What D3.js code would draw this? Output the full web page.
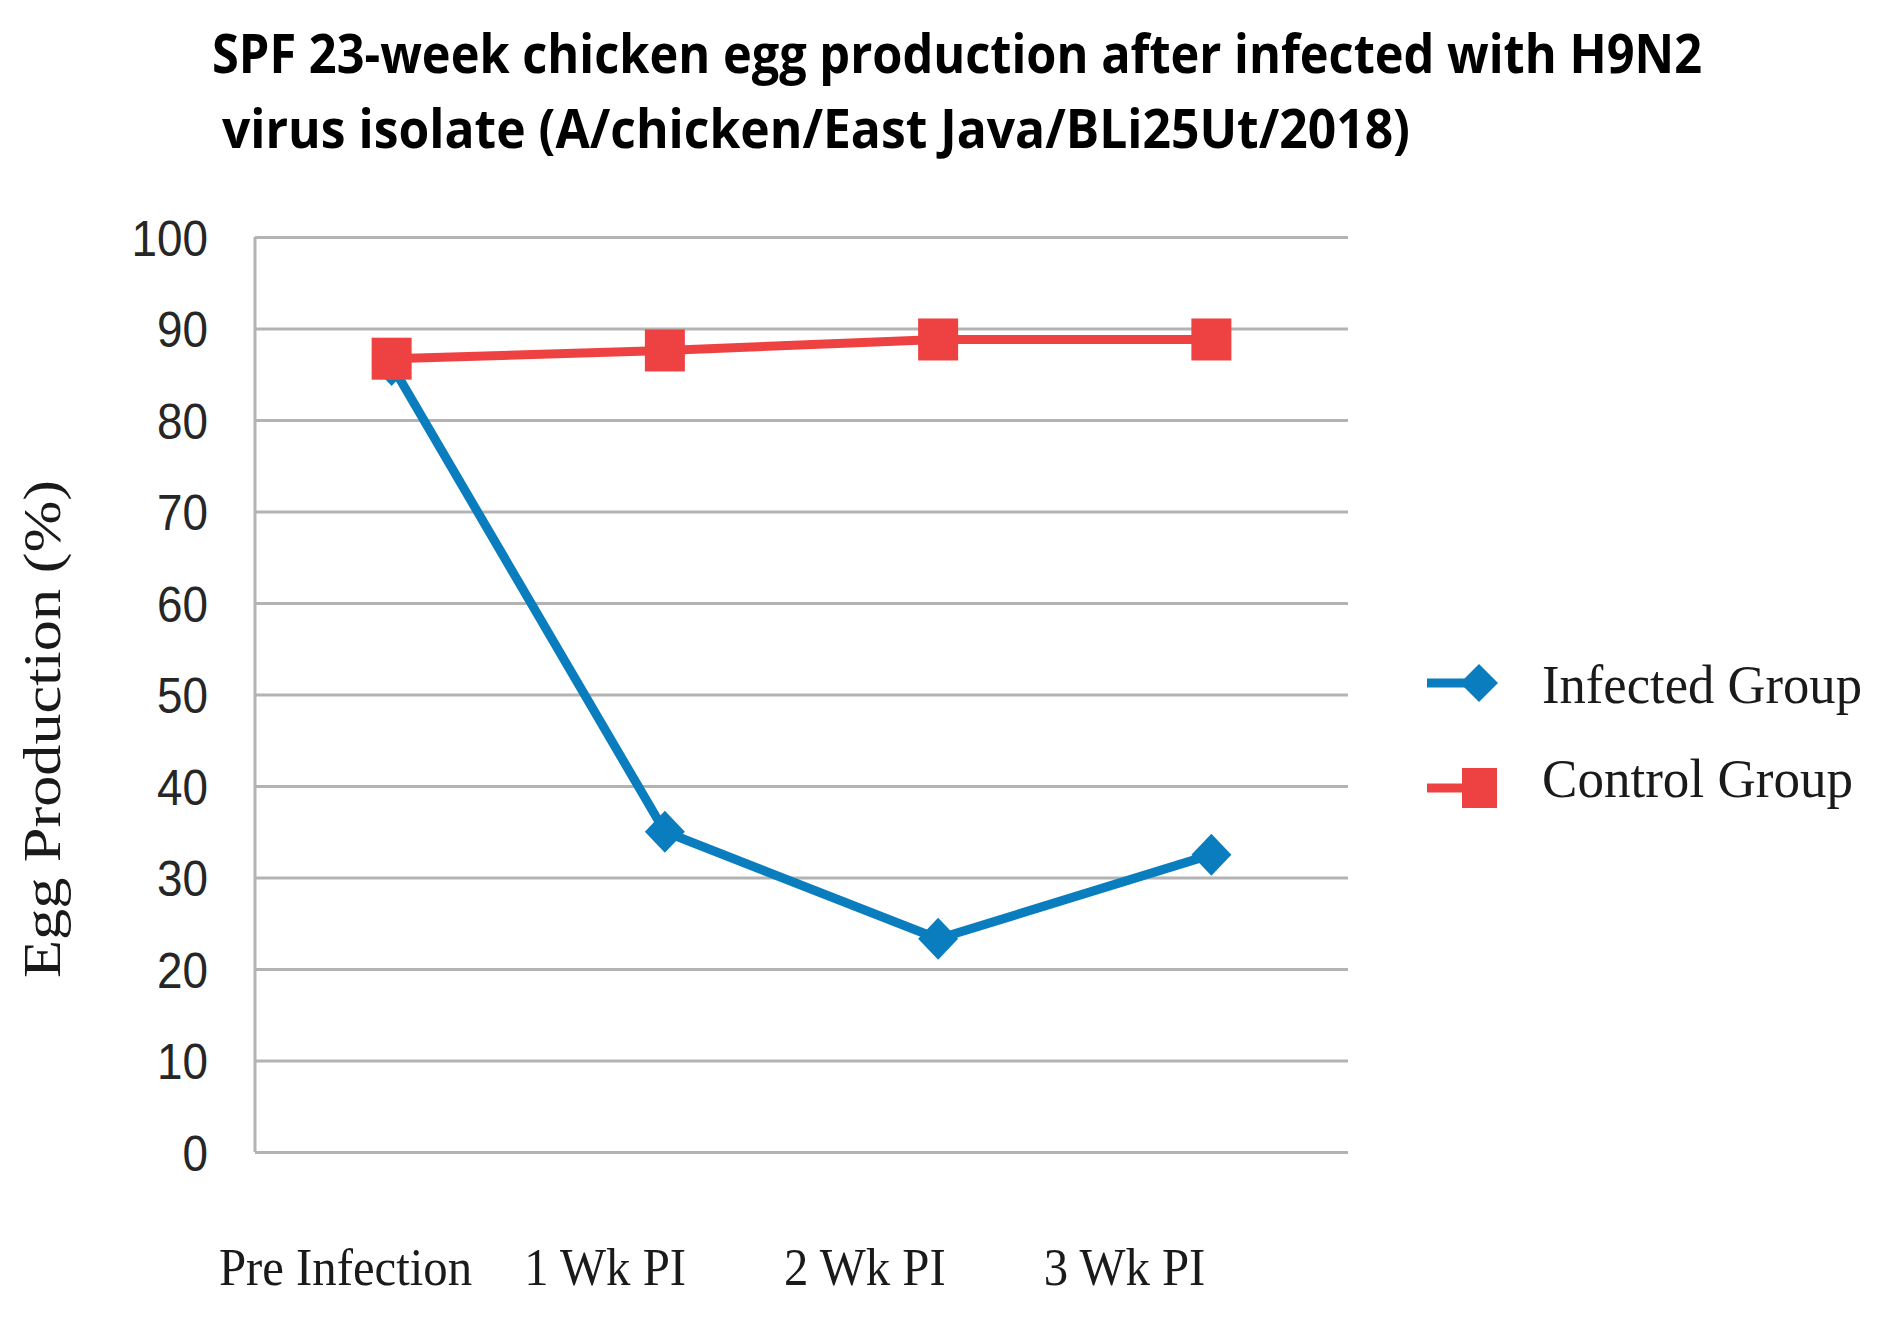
<!DOCTYPE html>
<html>
<head>
<meta charset="utf-8">
<script src="https://cdn.jsdelivr.net/npm/d3@7"></script>
<style>
html, body { margin: 0; padding: 0; background: #ffffff; }
svg { display: block; }
</style>
</head>
<body>
<svg id="chart" width="1887" height="1320"></svg>
<script>
// ---- data ----
const categories = ["Pre Infection", "1 Wk PI", "2 Wk PI", "3 Wk PI"];
const infectedValues = [86, 35, 23.3, 32.5];
const controlValues = [86.7, 87.6, 88.8, 88.8];
const yTicks = [0, 10, 20, 30, 40, 50, 60, 70, 80, 90, 100];
const seriesNames = ["Infected Group", "Control Group"];
const titleLines = [
  "SPF 23-week chicken egg production after infected with H9N2",
  "virus isolate (A/chicken/East Java/BLi25Ut/2018)"
];
const yAxisTitle = "Egg Production (%)";

// ---- layout ----
const W = 1887, H = 1320;
const plot = { left: 255, right: 1348, top: 237, bottom: 1152 };
const blue = "#0a7dbf", red = "#ee4242", grid = "#b3b3b3";
const serif = "'Liberation Serif', 'DejaVu Serif', serif";
const sans = "'Liberation Sans', Arial, sans-serif";

const svg = d3.select("#chart");
svg.append("rect").attr("width", W).attr("height", H).attr("fill", "#fff");

const x = d3.scaleBand().domain(categories).range([plot.left, plot.right]);
const cx = c => x(c) + x.bandwidth() / 2;
const y = d3.scaleLinear().domain([0, 100]).range([plot.bottom, plot.top]);
const xLabel = d3.scalePoint().domain(categories).range([345, 1124]);

// ---- title ----
const tl = svg.append("g").attr("font-family", "'Liberation Sans Narrow', 'Open Sans', sans-serif")
  .attr("font-weight", "bold").attr("font-size", 53).attr("fill", "#000");
tl.append("text").attr("x", 212).attr("y", 73).text(titleLines[0])
  .attr("textLength", 1490).attr("lengthAdjust", "spacingAndGlyphs");
tl.append("text").attr("x", 222).attr("y", 148).text(titleLines[1])
  .attr("textLength", 1188).attr("lengthAdjust", "spacingAndGlyphs");

// ---- gridlines ----
const gridG = svg.append("g").attr("transform", `translate(${plot.left},0)`)
  .call(d3.axisLeft(y).tickValues(yTicks).tickSize(-(plot.right - plot.left)).tickFormat(""));
gridG.select(".domain").remove();
gridG.selectAll(".tick line").attr("stroke", grid).attr("stroke-width", 3);

// left axis line
svg.append("line").attr("x1", plot.left).attr("x2", plot.left)
  .attr("y1", y(100)).attr("y2", y(0)).attr("stroke", grid).attr("stroke-width", 3);

// ---- y tick labels ----
const yAx = svg.append("g").attr("transform", `translate(${plot.left},0)`)
  .call(d3.axisLeft(y).tickValues(yTicks).tickSize(0).tickPadding(47));
yAx.select(".domain").remove();
yAx.selectAll(".tick text")
  .attr("font-family", sans).attr("font-size", 50).attr("fill", "#262626")
  .attr("dy", "0.36em")
  .attr("textLength", d => String(d).length * 25.5)
  .attr("lengthAdjust", "spacingAndGlyphs");

// ---- x labels ----
const xAx = svg.append("g").attr("transform", `translate(0,1285)`)
  .call(d3.axisBottom(xLabel).tickSize(0).tickPadding(0));
xAx.select(".domain").remove();
xAx.selectAll(".tick text")
  .attr("font-family", serif).attr("font-size", 53).attr("fill", "#1a1a1a")
  .attr("y", 0).attr("dy", 0)
  .each(function () {
    const len = this.getComputedTextLength();
    d3.select(this).attr("textLength", len * 0.92).attr("lengthAdjust", "spacingAndGlyphs");
  });

// ---- y axis title ----
svg.append("text")
  .attr("transform", "translate(60,729) rotate(-90)")
  .attr("text-anchor", "middle")
  .attr("font-family", serif).attr("font-size", 53).attr("fill", "#1a1a1a")
  .attr("textLength", 498).attr("lengthAdjust", "spacingAndGlyphs")
  .text(yAxisTitle);

// ---- series ----
const line = d3.line().x(d => cx(d.c)).y(d => y(d.v));
const infData = categories.map((c, i) => ({ c, v: infectedValues[i] }));
const ctlData = categories.map((c, i) => ({ c, v: controlValues[i] }));

const diamond = (px, py, hw, hh) => `M${px},${py - hh}L${px + hw},${py}L${px},${py + hh}L${px - hw},${py}Z`;

svg.append("path").datum(infData).attr("d", line)
  .attr("fill", "none").attr("stroke", blue).attr("stroke-width", 9).attr("stroke-linejoin", "round");
svg.append("g").selectAll("path").data(infData).join("path")
  .attr("d", d => diamond(cx(d.c), y(d.v), 20, 21)).attr("fill", blue);

svg.append("path").datum(ctlData).attr("d", line)
  .attr("fill", "none").attr("stroke", red).attr("stroke-width", 9).attr("stroke-linejoin", "round");
svg.append("g").selectAll("rect").data(ctlData).join("rect")
  .attr("x", d => cx(d.c) - 20).attr("y", d => y(d.v) - 21)
  .attr("width", 40).attr("height", 42).attr("fill", red);

// ---- legend ----
const lg = svg.append("g");
lg.append("line").attr("x1", 1427).attr("x2", 1479).attr("y1", 683).attr("y2", 683)
  .attr("stroke", blue).attr("stroke-width", 9);
lg.append("path").attr("d", diamond(1479, 683, 19, 19)).attr("fill", blue);
lg.append("line").attr("x1", 1427).attr("x2", 1480).attr("y1", 788).attr("y2", 788)
  .attr("stroke", red).attr("stroke-width", 9);
lg.append("rect").attr("x", 1462).attr("y", 768).attr("width", 35).attr("height", 40).attr("fill", red);
const legendTexts = [
  { t: seriesNames[0], y: 703, w: 320 },
  { t: seriesNames[1], y: 797, w: 311 }
];
lg.selectAll("text").data(legendTexts).join("text")
  .attr("x", 1542).attr("y", d => d.y)
  .attr("font-family", serif).attr("font-size", 54).attr("fill", "#1a1a1a")
  .attr("textLength", d => d.w).attr("lengthAdjust", "spacingAndGlyphs")
  .text(d => d.t);
</script>
</body>
</html>
